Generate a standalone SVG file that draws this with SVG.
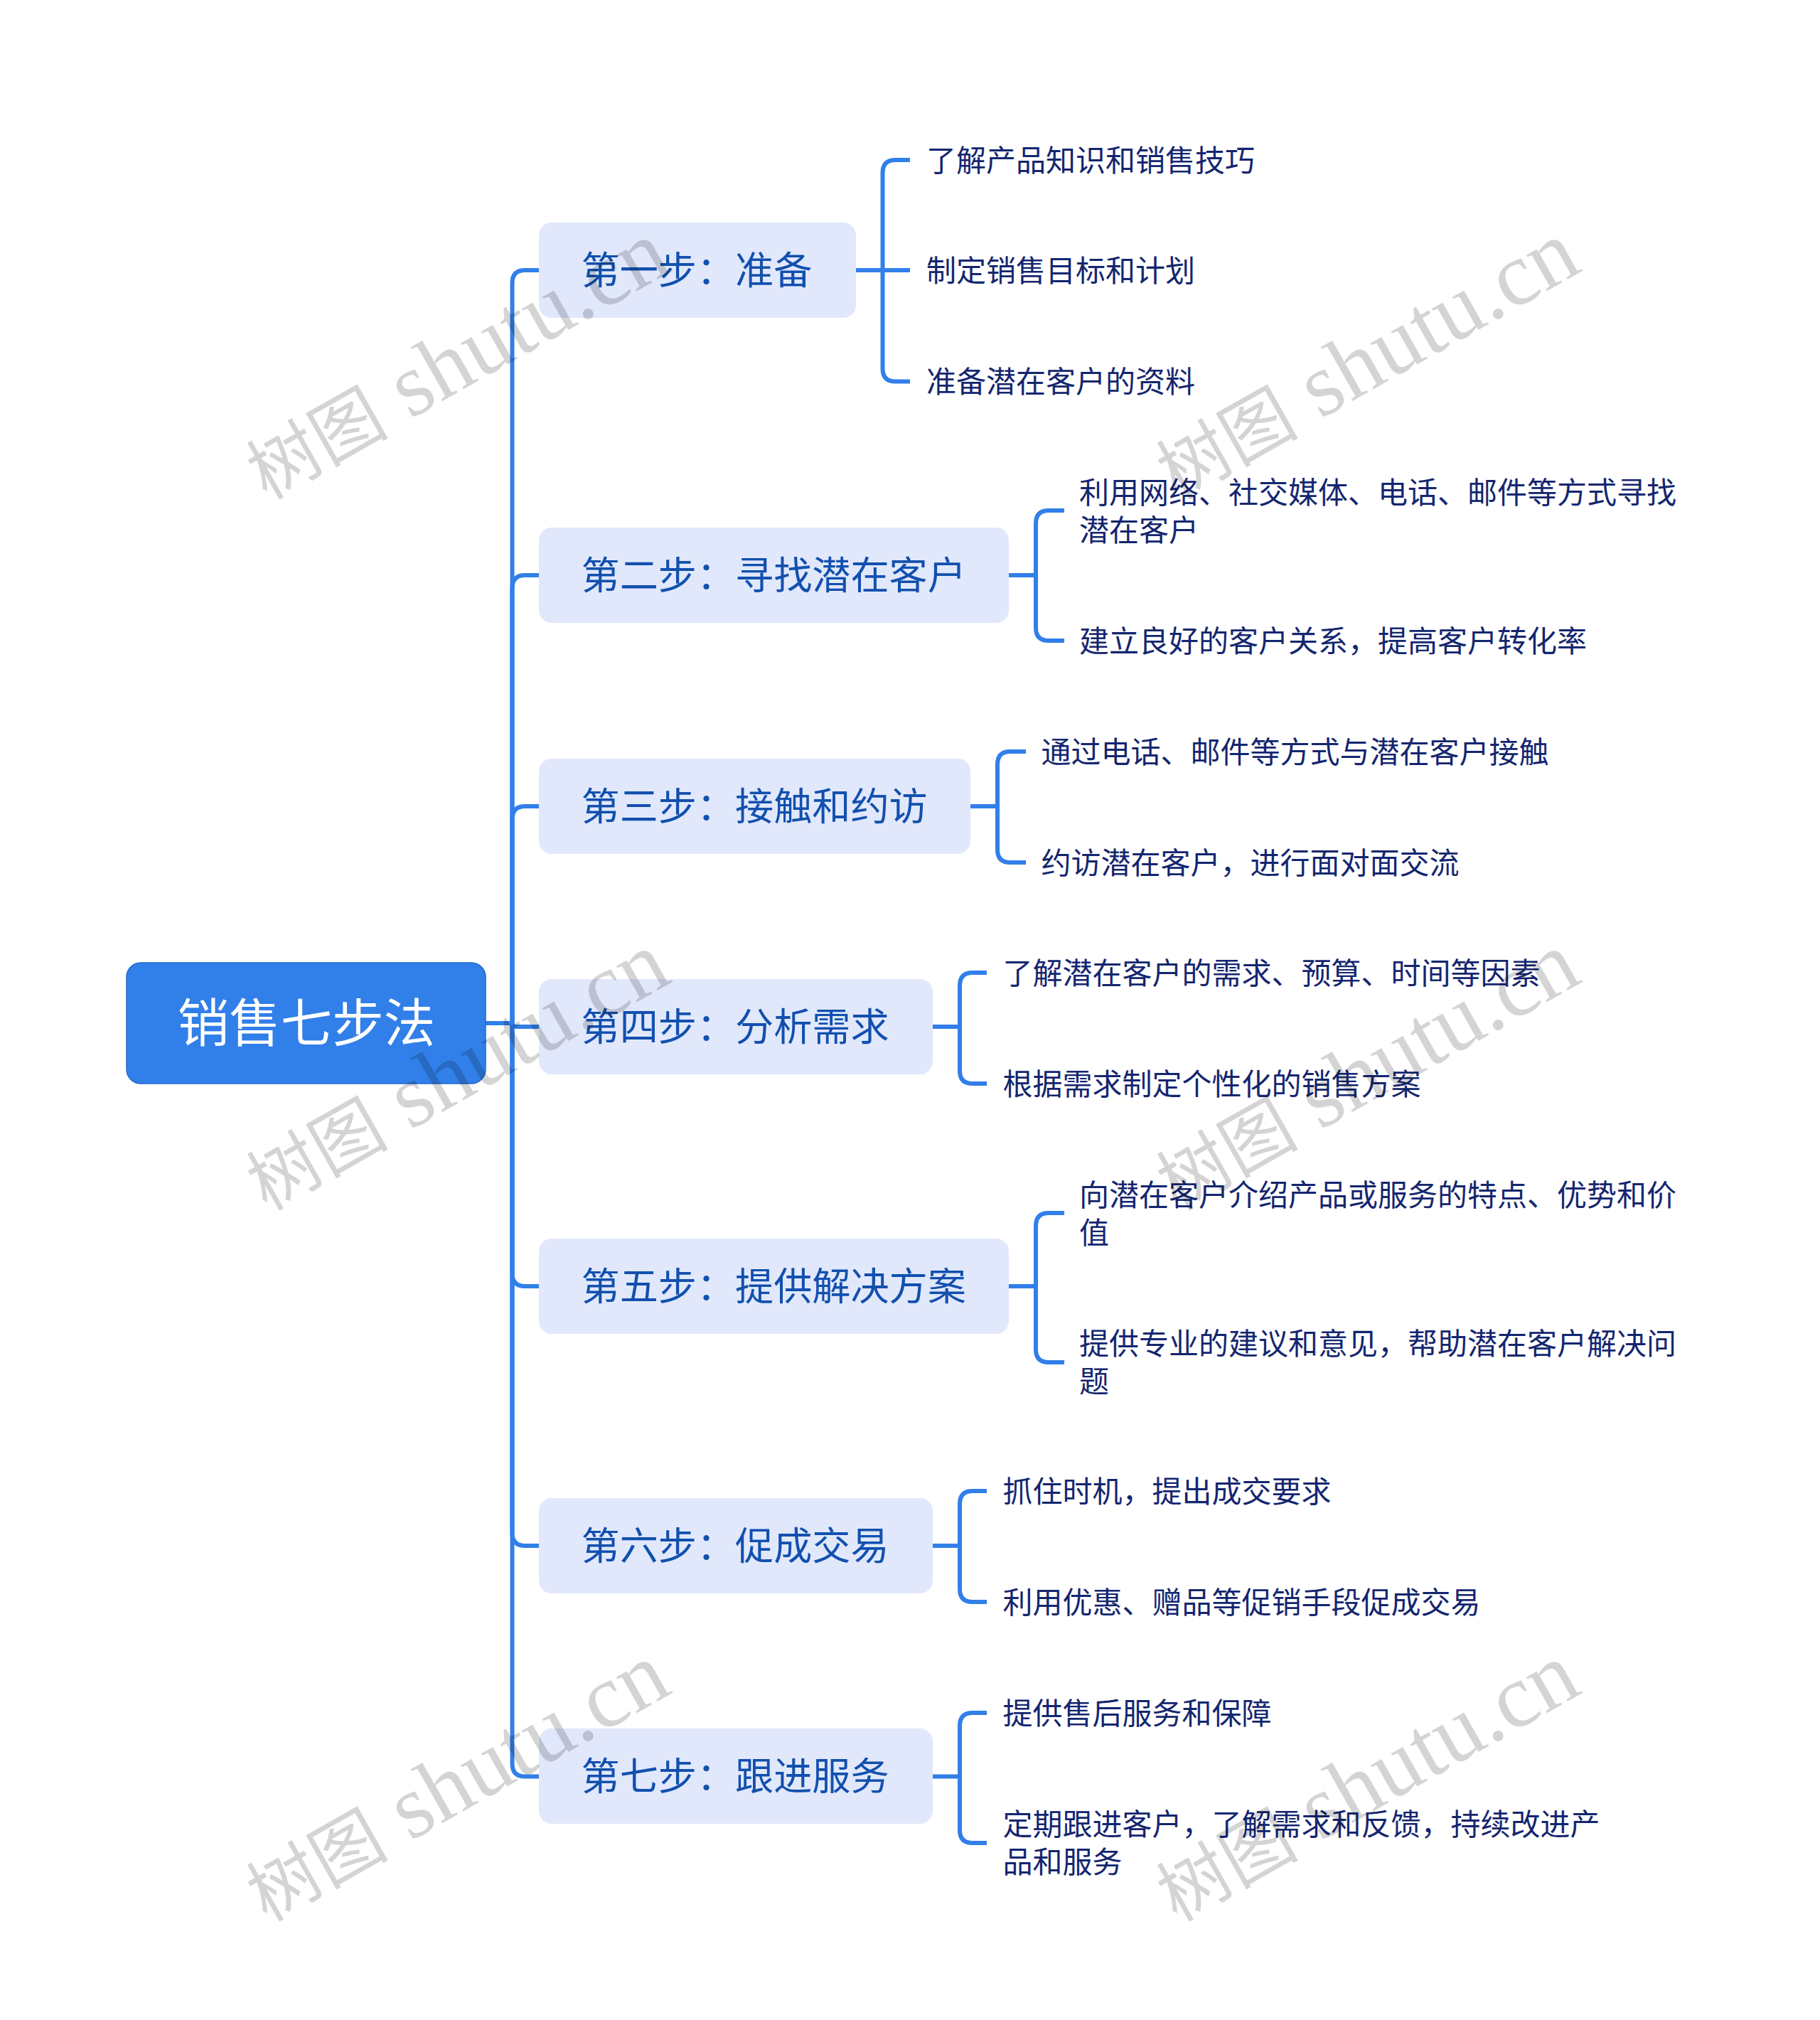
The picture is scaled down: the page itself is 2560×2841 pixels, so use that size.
<svg xmlns="http://www.w3.org/2000/svg" width="2560" height="2841" viewBox="0 0 2560 2841">
<style>
text{font-family:"Noto Sans CJK SC","Noto Sans",sans-serif}
.c{fill:none;stroke:#317fe9;stroke-width:6;stroke-linecap:butt}
.root{fill:#317fe9;stroke:#2468cc;stroke-width:1.5}
.rt{fill:#fff;font-size:72.5px;text-anchor:middle}
.step{fill:#e1e8fb}
.st{fill:#1250ae;font-size:54.15px}
.leaf{fill:#14266f;font-size:42px}
.wm{fill:#000;fill-opacity:.17;font-size:127px;font-family:"Liberation Serif",serif}
.wc{font-size:100px;font-family:"Noto Sans CJK SC",sans-serif}
</style>
<rect width="2560" height="2841" fill="#fff"/>
<g id="connectors">
<path class="c" d="M683 1439H720.5"/>
<path class="c" d="M720.5 1439V398Q720.5 380 738.5 380H759"/>
<path class="c" d="M720.5 1439V827Q720.5 809 738.5 809H759"/>
<path class="c" d="M720.5 1439V1152Q720.5 1134 738.5 1134H759"/>
<path class="c" d="M720.5 1439Q720.5 1444 725.5 1444H759"/>
<path class="c" d="M720.5 1439V1791Q720.5 1809 738.5 1809H759"/>
<path class="c" d="M720.5 1439V2156Q720.5 2174 738.5 2174H759"/>
<path class="c" d="M720.5 1439V2480.5Q720.5 2498.5 738.5 2498.5H759"/>
<path class="c" d="M1204 380H1280M1280 225H1259.5Q1241.5 225 1241.5 243V518.5Q1241.5 536.5 1259.5 536.5H1280"/>
<path class="c" d="M1419 809H1457M1497 718H1475Q1457 718 1457 736V883Q1457 901 1475 901H1497"/>
<path class="c" d="M1365 1134H1403M1443 1057H1421Q1403 1057 1403 1075V1195Q1403 1213 1421 1213H1443"/>
<path class="c" d="M1312 1444H1350M1388 1368H1368Q1350 1368 1350 1386V1506Q1350 1524 1368 1524H1388"/>
<path class="c" d="M1419 1809H1457M1497 1706H1475Q1457 1706 1457 1724V1898Q1457 1916 1475 1916H1497"/>
<path class="c" d="M1312 2174H1350M1388 2097H1368Q1350 2097 1350 2115V2235Q1350 2253 1368 2253H1388"/>
<path class="c" d="M1312 2498.5H1350M1388 2409H1368Q1350 2409 1350 2427V2574Q1350 2592 1368 2592H1388"/>
</g>
<g id="root"><rect class="root" x="178" y="1354" width="505" height="170" rx="20"/><text class="rt" x="431" y="1465">销售七步法</text></g>
<g id="step1"><rect class="step" x="758" y="313" width="446" height="134" rx="18"/><text class="st" x="817.5" y="400">第一步：准备</text></g>
<g id="step1-1"><text class="leaf" x="1303" y="241">了解产品知识和销售技巧</text></g>
<g id="step1-2"><text class="leaf" x="1303" y="396">制定销售目标和计划</text></g>
<g id="step1-3"><text class="leaf" x="1303" y="552">准备潜在客户的资料</text></g>
<g id="step2"><rect class="step" x="758" y="742" width="661" height="134" rx="18"/><text class="st" x="817.5" y="829">第二步：寻找潜在客户</text></g>
<g id="step2-1"><text class="leaf" x="1518" y="708">利用网络、社交媒体、电话、邮件等方式寻找</text><text class="leaf" x="1518" y="761">潜在客户</text></g>
<g id="step2-2"><text class="leaf" x="1518" y="917">建立良好的客户关系，提高客户转化率</text></g>
<g id="step3"><rect class="step" x="758" y="1067" width="607" height="134" rx="18"/><text class="st" x="817.5" y="1154">第三步：接触和约访</text></g>
<g id="step3-1"><text class="leaf" x="1464.5" y="1072.5">通过电话、邮件等方式与潜在客户接触</text></g>
<g id="step3-2"><text class="leaf" x="1464.5" y="1228.5">约访潜在客户，进行面对面交流</text></g>
<g id="step4"><rect class="step" x="758" y="1377" width="554" height="134" rx="18"/><text class="st" x="817.5" y="1464">第四步：分析需求</text></g>
<g id="step4-1"><text class="leaf" x="1410.5" y="1383.5">了解潜在客户的需求、预算、时间等因素</text></g>
<g id="step4-2"><text class="leaf" x="1410.5" y="1539.5">根据需求制定个性化的销售方案</text></g>
<g id="step5"><rect class="step" x="758" y="1742" width="661" height="134" rx="18"/><text class="st" x="817.5" y="1829">第五步：提供解决方案</text></g>
<g id="step5-1"><text class="leaf" x="1518" y="1695.5">向潜在客户介绍产品或服务的特点、优势和价</text><text class="leaf" x="1518" y="1748.5">值</text></g>
<g id="step5-2"><text class="leaf" x="1518" y="1904.5">提供专业的建议和意见，帮助潜在客户解决问</text><text class="leaf" x="1518" y="1957.5">题</text></g>
<g id="step6"><rect class="step" x="758" y="2107" width="554" height="134" rx="18"/><text class="st" x="817.5" y="2194">第六步：促成交易</text></g>
<g id="step6-1"><text class="leaf" x="1410.5" y="2112.5">抓住时机，提出成交要求</text></g>
<g id="step6-2"><text class="leaf" x="1410.5" y="2268.5">利用优惠、赠品等促销手段促成交易</text></g>
<g id="step7"><rect class="step" x="758" y="2431" width="554" height="134" rx="18"/><text class="st" x="817.5" y="2518">第七步：跟进服务</text></g>
<g id="step7-1"><text class="leaf" x="1410.5" y="2424.5">提供售后服务和保障</text></g>
<g id="step7-2"><text class="leaf" x="1410.5" y="2580.5">定期跟进客户，了解需求和反馈，持续改进产</text><text class="leaf" x="1410.5" y="2633.5">品和服务</text></g>
<g id="watermarks">
<text class="wm" transform="translate(375 704) rotate(-29.5)"><tspan class="wc">树图</tspan> shutu.cn</text>
<text class="wm" transform="translate(1655 704) rotate(-29.5)"><tspan class="wc">树图</tspan> shutu.cn</text>
<text class="wm" transform="translate(375 1704) rotate(-29.5)"><tspan class="wc">树图</tspan> shutu.cn</text>
<text class="wm" transform="translate(1655 1704) rotate(-29.5)"><tspan class="wc">树图</tspan> shutu.cn</text>
<text class="wm" transform="translate(375 2704) rotate(-29.5)"><tspan class="wc">树图</tspan> shutu.cn</text>
<text class="wm" transform="translate(1655 2704) rotate(-29.5)"><tspan class="wc">树图</tspan> shutu.cn</text>
</g>
</svg>
